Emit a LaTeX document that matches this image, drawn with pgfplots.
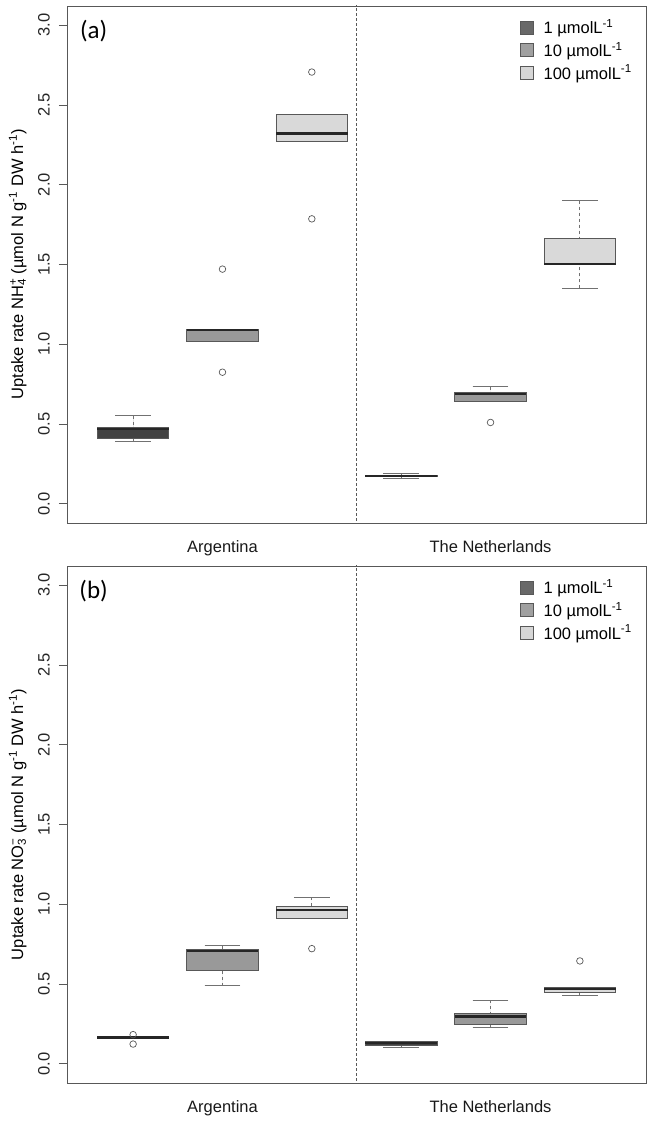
\documentclass[border=0pt]{standalone}
\usepackage{pgfplots}
\pgfplotsset{compat=1.18}
\usepgfplotslibrary{statistics}
\usepackage{fontspec}
\setmainfont{Liberation Sans}
\newfontfamily\calib{Carlito}

\definecolor{gA}{HTML}{424242}
\definecolor{gB}{HTML}{999999}
\definecolor{gC}{HTML}{D9D9D9}
\definecolor{lA}{HTML}{686868}
\definecolor{lB}{HTML}{A0A0A0}
\definecolor{lC}{HTML}{D6D6D6}
\definecolor{frm}{HTML}{585858}

\newcommand{\fs}{\fontsize{16.5}{18}\selectfont}

\pgfplotsset{
  rbox/.style={
    forget plot,
    draw=frm, line width=0.8pt,
    mark=o, mark size=3.3pt, mark options={draw=frm, solid, fill=none, line width=0.7pt},
    boxplot/draw direction=y,
    boxplot/box extend=0.8,
    boxplot/whisker extend=0.4,
    boxplot/every box/.style={draw=frm, line width=0.8pt},
    boxplot/every median/.style={draw=black!85, line width=2.2pt},
    boxplot/every whisker/.style={draw=frm!85, line width=0.8pt},
    boxplot/draw/lower whisker/.code={%
      \draw[/pgfplots/boxplot/every whisker/.try, dashed]
        (boxplot cs:\pgfplotsboxplotvalue{lower whisker}) --
        (boxplot cs:\pgfplotsboxplotvalue{lower quartile});
      \draw[/pgfplots/boxplot/every whisker/.try]
        (boxplot whisker cs:\pgfplotsboxplotvalue{lower whisker},0) --
        (boxplot whisker cs:\pgfplotsboxplotvalue{lower whisker},1);
    },
    boxplot/draw/upper whisker/.code={%
      \draw[/pgfplots/boxplot/every whisker/.try, dashed]
        (boxplot cs:\pgfplotsboxplotvalue{upper whisker}) --
        (boxplot cs:\pgfplotsboxplotvalue{upper quartile});
      \draw[/pgfplots/boxplot/every whisker/.try]
        (boxplot whisker cs:\pgfplotsboxplotvalue{upper whisker},0) --
        (boxplot whisker cs:\pgfplotsboxplotvalue{upper whisker},1);
    },
  },
  rpanel/.style={
    anchor=south west,
    scale only axis, width=579pt, height=517pt,
    xmin=0.26, xmax=6.74, ymin=-0.12, ymax=3.12,
    axis line style={draw=frm, line width=0.8pt},
    xtick={2,5}, xticklabels={Argentina, The Netherlands},
    x tick style={draw=none},
    ytick={0,0.5,1,1.5,2,2.5,3},
    y tick style={draw=frm, line width=0.8pt},
    tick align=outside, major tick length=8pt,
    ytick pos=left, xtick pos=bottom,
    /pgf/number format/fixed, /pgf/number format/fixed zerofill,
    /pgf/number format/precision=1, /pgf/number format/assume math mode=true,
    yticklabel style={rotate=90, anchor=south, font=\fs, text=black!85, inner sep=0pt},
    yticklabel shift=9pt,
    xticklabel style={font=\fs, text=black!90, inner sep=0pt},
    xticklabel shift=9pt,
    ylabel style={font=\fs, at={(axis description cs:-0.085,0.5)}, anchor=center, rotate=0},
    legend style={at={(axis description cs:0.782,0.976)}, anchor=north west,
      draw=none, fill=none, font=\fs, row sep=5pt, inner sep=0pt,
      nodes={inner sep=1pt}},
    legend cell align=left,
    legend image code/.code={\draw[#1] (0pt,-6.5pt) rectangle (13pt,6.5pt); \path (22pt,0pt);},
  },
}

\begin{document}
\begin{tikzpicture}
\useasboundingbox (0,0) rectangle (651pt,1122pt);

% ---------------- panel (a) ----------------
\begin{axis}[rpanel, at={(67pt,599pt)},
  ylabel={Uptake rate NH\rlap{\textsubscript{4}}\textsuperscript{+}\ (µmol N g\textsuperscript{-1} DW h\textsuperscript{-1})}]
\addplot[rbox, fill=gA, boxplot prepared={draw position=1,
  lower whisker=0.39, lower quartile=0.412, median=0.47, upper quartile=0.478, upper whisker=0.552}]
  coordinates {};
\addplot[rbox, fill=gB, boxplot prepared={draw position=2,
  lower whisker=1.018, lower quartile=1.018, median=1.09, upper quartile=1.095, upper whisker=1.095}]
  table[row sep=\\, y index=0] {y\\ 1.471\\ 0.825\\};
\addplot[rbox, fill=gC, boxplot prepared={draw position=3,
  lower whisker=2.273, lower quartile=2.273, median=2.321, upper quartile=2.440, upper whisker=2.440}]
  table[row sep=\\, y index=0] {y\\ 2.706\\ 1.786\\};
\addplot[rbox, fill=gA, boxplot prepared={draw position=4,
  lower whisker=0.16, lower quartile=0.17, median=0.175, upper quartile=0.18, upper whisker=0.19}]
  coordinates {};
\addplot[rbox, fill=gB, boxplot prepared={draw position=5,
  lower whisker=0.645, lower quartile=0.645, median=0.69, upper quartile=0.70, upper whisker=0.735}]
  table[row sep=\\, y index=0] {y\\ 0.51\\};
\addplot[rbox, fill=gC, boxplot prepared={draw position=6,
  lower whisker=1.35, lower quartile=1.50, median=1.505, upper quartile=1.665, upper whisker=1.90}]
  coordinates {};
\addplot[forget plot, frm, densely dashed, line width=0.7pt] coordinates {(3.5,-0.2) (3.5,3.2)};
\addlegendimage{fill=lA, draw=frm, line width=0.6pt}
\addlegendentry{1 µmolL\textsuperscript{-1}}
\addlegendimage{fill=lB, draw=frm, line width=0.6pt}
\addlegendentry{10 µmolL\textsuperscript{-1}}
\addlegendimage{fill=lC, draw=frm, line width=0.6pt}
\addlegendentry{100 µmolL\textsuperscript{-1}}
\node[font=\calib\fontsize{25}{25}\selectfont] at (rel axis cs:0.046,0.952) {(a)};
\end{axis}

% ---------------- panel (b) ----------------
\begin{axis}[rpanel, at={(67pt,39pt)},
  ylabel={Uptake rate NO\rlap{\textsubscript{3}}\textsuperscript{−}\ (µmol N g\textsuperscript{-1} DW h\textsuperscript{-1})}]
\addplot[rbox, fill=gA, boxplot prepared={draw position=1,
  lower whisker=0.165, lower quartile=0.164, median=0.165, upper quartile=0.166, upper whisker=0.166}]
  table[row sep=\\, y index=0] {y\\ 0.183\\ 0.124\\};
\addplot[rbox, fill=gB, boxplot prepared={draw position=2,
  lower whisker=0.49, lower quartile=0.585, median=0.705, upper quartile=0.715, upper whisker=0.74}]
  coordinates {};
\addplot[rbox, fill=gC, boxplot prepared={draw position=3,
  lower whisker=0.911, lower quartile=0.911, median=0.965, upper quartile=0.985, upper whisker=1.045}]
  table[row sep=\\, y index=0] {y\\ 0.722\\};
\addplot[rbox, fill=gA, boxplot prepared={draw position=4,
  lower whisker=0.105, lower quartile=0.118, median=0.13, upper quartile=0.14, upper whisker=0.14}]
  coordinates {};
\addplot[rbox, fill=gB, boxplot prepared={draw position=5,
  lower whisker=0.228, lower quartile=0.248, median=0.297, upper quartile=0.316, upper whisker=0.40}]
  coordinates {};
\addplot[rbox, fill=gC, boxplot prepared={draw position=6,
  lower whisker=0.43, lower quartile=0.447, median=0.47, upper quartile=0.477, upper whisker=0.477}]
  table[row sep=\\, y index=0] {y\\ 0.645\\};
\addplot[forget plot, frm, densely dashed, line width=0.7pt] coordinates {(3.5,-0.2) (3.5,3.2)};
\addlegendimage{fill=lA, draw=frm, line width=0.6pt}
\addlegendentry{1 µmolL\textsuperscript{-1}}
\addlegendimage{fill=lB, draw=frm, line width=0.6pt}
\addlegendentry{10 µmolL\textsuperscript{-1}}
\addlegendimage{fill=lC, draw=frm, line width=0.6pt}
\addlegendentry{100 µmolL\textsuperscript{-1}}
\node[font=\calib\fontsize{25}{25}\selectfont] at (rel axis cs:0.046,0.952) {(b)};
\end{axis}
\end{tikzpicture}
\end{document}
